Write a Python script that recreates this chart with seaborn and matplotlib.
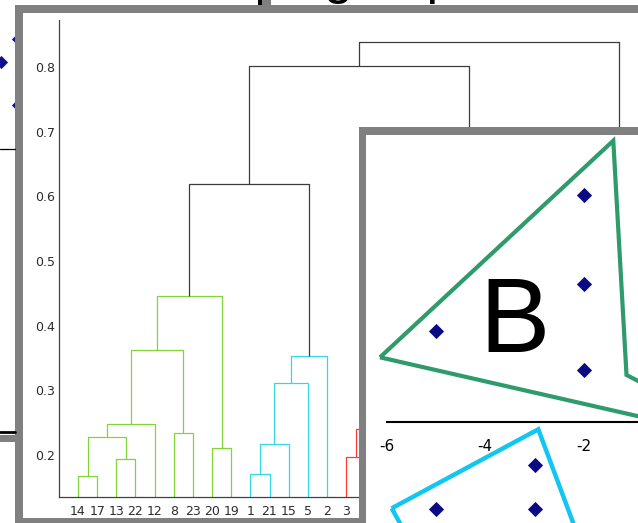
import numpy as np
import matplotlib
matplotlib.use("Agg")
import matplotlib.pyplot as plt
import seaborn as sns
from matplotlib.patches import Rectangle, Polygon

# ---------------- dendrogram data ----------------
leaf_labels = ["14", "17", "13", "22", "12", "8", "23", "20", "19", "1", "21", "15", "5", "2", "3",
               "16", "9", "24", "6", "18", "4", "26", "11", "27", "7", "29", "10", "25", "28", "30"]

# merges: ids < 30 are leaf positions, id 30 + k is merge k
merge_a = [0, 2, 30, 32, 5, 33, 7, 35, 9, 38, 39, 40, 37, 14, 16, 44, 43, 46, 20, 22, 48, 24, 51, 50, 47, 27, 55, 42, 57]
merge_b = [1, 3, 31, 4, 6, 34, 8, 36, 10, 11, 12, 13, 41, 15, 17, 18, 45, 19, 21, 23, 49, 25, 26, 52, 53, 28, 29, 54, 56]
merge_h = [0.168, 0.194, 0.228, 0.248, 0.234, 0.362, 0.211, 0.446,
           0.171, 0.2165, 0.311, 0.3535, 0.619,
           0.197, 0.182, 0.214, 0.241, 0.292, 0.165, 0.188, 0.262, 0.205, 0.270, 0.335, 0.520,
           0.210, 0.390, 0.801, 0.838]
merge_group = ["g", "g", "g", "g", "g", "g", "g", "g",
               "c", "c", "c", "c", "k",
               "r", "r", "r", "r", "r", "r", "r", "r", "r", "r", "r", "r",
               "m", "m", "k", "k"]
group_colors = {"g": "#82d43c", "c": "#35d8e4", "r": "#ff3c3c", "m": "#d040e0", "k": "#3c3c3c"}
y_ticks = [0.2, 0.3, 0.4, 0.5, 0.6, 0.7, 0.8]

# ---------------- scatter panel data ----------------
pts_x = [-2, -2, -5, -2, -3, -5, -3]
pts_y = [5.21, 3.16, 2.09, 1.19, -1.0, -2.0, -2.0]
green_x = [-6.136, -1.404, -1.136, 1.572]
green_y = [1.480, 6.460, 1.074, -0.513]
cyan_x = [-5.899, -2.925, -1.672, -4.919]
cyan_y = [-1.991, -0.175, -3.986, -3.986]
x_ticks = [-6, -4, -2, 0]

# background slide pieces (pixel space)
bg_diamond_x = [17.5, 0.5, 17.5]
bg_diamond_y = [39, 62, 105]

sns.set_style("white")
plt.rcParams["font.family"] = ["DejaVu Sans"]

W, H = 638, 523
fig = plt.figure(figsize=(W / 100, H / 100), dpi=100)
fig.patch.set_facecolor("white")


def px_axes(x0, y0, x1, y1, z):
    a = fig.add_axes([x0 / W, 1 - y1 / H, (x1 - x0) / W, (y1 - y0) / H])
    a.set_zorder(z)
    a.patch.set_alpha(0)
    return a


GRAY = "#808080"

# ---- background layer: slide title, stray items, first frame ----
bg = px_axes(0, 0, W, H, 0)
bg.set_xlim(0, W)
bg.set_ylim(H, 0)
bg.axis("off")
bg.text(116, -6.5, "Clustering of points", fontsize=38, family=["Liberation Sans"],
        ha="left", va="baseline", color="black", clip_on=False)
bg.add_patch(Rectangle((258, -2), 3.5, 7, color="black", lw=0))
bg.add_patch(Rectangle((262, -2), 8.5, 7, color=GRAY, lw=0))
sns.scatterplot(x=bg_diamond_x, y=bg_diamond_y, marker="D", s=45, color="#10108a",
                edgecolor="#10108a", linewidth=0, ax=bg, legend=False, clip_on=False)
bg.plot([0, 15], [149, 149], color="black", lw=0.9)
bg.plot([0, 15], [432, 432], color="black", lw=2.0)
bg.add_patch(Rectangle((0, 435), 15, 7, color=GRAY, lw=0))
bg.add_patch(Rectangle((15, 5), 700, 530, color=GRAY, lw=0))
bg.add_patch(Rectangle((23, 13), 700, 505, color="white", lw=0))

# ---- dendrogram ----
step = 19.15
x_left = 78 - step
ax = px_axes(x_left, 20, x_left + 31 * step, 497, 1)
n = len(leaf_labels)
node_x = list(np.arange(1, n + 1, dtype=float))
node_h = [0.0] * n
for a, b, h, g in zip(merge_a, merge_b, merge_h, merge_group):
    xa, xb = node_x[a], node_x[b]
    ax.plot([xa, xa, xb, xb], [node_h[a], h, h, node_h[b]],
            color=group_colors[g], lw=0.9, solid_capstyle="butt")
    node_x.append((xa + xb) / 2)
    node_h.append(h)

ax.set_xlim(0, 31)
ax.set_ylim(0.1351, 0.8727)
ax.set_xticks(np.arange(1, n + 1))
ax.set_xticklabels(leaf_labels)
ax.set_yticks(y_ticks)
ax.set_yticklabels([f"{v:.1f}" for v in y_ticks])
for side in ("top", "right"):
    ax.spines[side].set_visible(False)
for side in ("left", "bottom"):
    ax.spines[side].set_color("#404040")
    ax.spines[side].set_linewidth(0.9)
ax.tick_params(axis="y", direction="in", length=4.5, width=0.9, color="#404040",
               pad=3, labelsize=9, labelcolor="#2b2b2b")
ax.tick_params(axis="x", length=0, pad=5.5, labelsize=9, labelcolor="#2b2b2b")
ax.set_xlabel("")
ax.set_ylabel("")

# ---- second frame ----
fr = px_axes(0, 0, W, H, 2)
fr.set_xlim(0, W)
fr.set_ylim(H, 0)
fr.axis("off")
fr.add_patch(Rectangle((358.5, 127), 400, 500, color=GRAY, lw=0))
fr.add_patch(Rectangle((366, 135), 400, 500, color="white", lw=0))

# ---- scatter panel ----
sx0, sx1, sy0, sy1 = 366, 700, 135, 600
xs, ys = 49.3, 43.5
sc = px_axes(sx0, sy0, sx1, sy1, 3)
sc.set_xlim(-6 + (sx0 - 386.7) / xs, -6 + (sx1 - 386.7) / xs)
sc.set_ylim((421.7 - sy1) / ys, (421.7 - sy0) / ys)
sc.add_patch(Polygon(np.column_stack([green_x, green_y]), closed=True, fill=False,
                     edgecolor="#2f9a6c", lw=3.0, joinstyle="miter"))
sc.add_patch(Polygon(np.column_stack([cyan_x, cyan_y]), closed=True, fill=False,
                     edgecolor="#12c6f2", lw=3.2, joinstyle="miter"))
sns.scatterplot(x=pts_x, y=pts_y, marker="D", s=60, color="#0a0a84",
                edgecolor="#0a0a84", linewidth=0, ax=sc, legend=False, zorder=5)
sc.text(-4.128, 1.595, "B", fontsize=76, family=["Liberation Sans"],
        ha="left", va="baseline", color="black")
sc.text(-4.43, -4.05, "C", fontsize=76, family=["Liberation Sans"],
        ha="left", va="baseline", color="black", clip_on=False)
for side in ("top", "right", "left"):
    sc.spines[side].set_visible(False)
sc.spines["bottom"].set_position(("data", 0))
sc.spines["bottom"].set_bounds(-6, 1)
sc.spines["bottom"].set_color("black")
sc.spines["bottom"].set_linewidth(1.5)
sc.set_xticks(x_ticks)
sc.set_xticklabels([str(t) for t in x_ticks])
sc.set_yticks([])
sc.tick_params(axis="x", direction="out", length=3.5, width=1.5, color="black",
               pad=9, labelsize=11, labelcolor="black")

fig.savefig("out.png", dpi=100, facecolor="white")
